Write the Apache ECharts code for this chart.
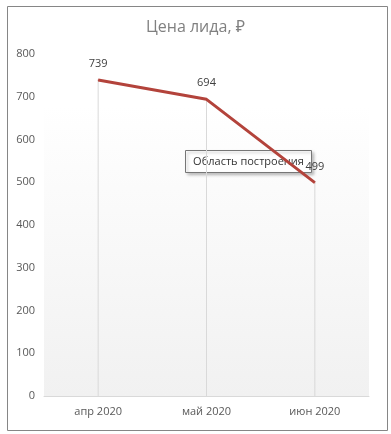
<!DOCTYPE html>
<html><head><meta charset="utf-8">
<script src="https://cdn.jsdelivr.net/npm/echarts@6/dist/echarts.min.js"></script>
<style>html,body{margin:0;padding:0;background:#fff}#c{width:391px;height:434px}</style>
</head><body><div id="c"></div>
<script>
const title = 'Цена лида, ₽';
const categories = ['апр 2020', 'май 2020', 'июн 2020'];
const values = [739, 694, 499];
const yTicks = [0, 100, 200, 300, 400, 500, 600, 700, 800];
const tipText = 'Область построения';

const chart = echarts.init(document.getElementById('c'), null, {renderer: 'canvas'});
const font = '"Open Sans", "Noto Sans", sans-serif';
chart.setOption({
  animation: false,
  backgroundColor: '#fff',
  title: {text: title, left: 'center', top: 14,
    textStyle: {fontFamily: font, fontSize: 16, fontWeight: 'normal', color: '#808080'}},
  grid: {left: 44, right: 22, top: 54, bottom: 38, show: true, borderWidth: 0,
    backgroundColor: new echarts.graphic.LinearGradient(0, 0, 0, 1, [
      {offset: 0, color: '#ffffff'}, {offset: 0.15, color: '#ffffff'}, {offset: 1, color: '#f1f1f1'}])},
  xAxis: {type: 'category', data: categories, boundaryGap: true,
    axisLine: {show: true, lineStyle: {color: '#d9d9d9'}}, axisTick: {show: false},
    axisLabel: {fontFamily: font, fontSize: 11, color: '#595959', margin: 10},
    splitLine: {show: false}},
  yAxis: {type: 'value', min: yTicks[0], max: yTicks[yTicks.length - 1], interval: 100,
    axisLine: {show: false}, axisTick: {show: false}, splitLine: {show: false},
    axisLabel: {fontFamily: font, fontSize: 11, color: '#595959', margin: 9}},
  series: [
    {type: 'bar', data: values, barWidth: 1, itemStyle: {color: '#d9d9d9'}, silent: true, z: 1},
    {type: 'line', data: values, symbol: 'circle', symbolSize: 1, showSymbol: true, z: 3,
      itemStyle: {color: '#b3433b'},
      lineStyle: {color: '#b3433b', width: 3},
      label: {show: true, position: 'top', distance: 10, fontFamily: font, fontSize: 11, color: '#404040'}}
  ],
  graphic: [
    {type: 'rect', left: 5, top: 4, z: 0, silent: true,
      shape: {width: 380, height: 424}, style: {fill: 'none', stroke: '#868686', lineWidth: 1}},
    {type: 'group', left: 185, top: 150, z: 100, children: [
      {type: 'rect', shape: {x: 0, y: 0, width: 126, height: 22},
        style: {fill: '#fff', stroke: '#767676', lineWidth: 1, shadowBlur: 3, shadowOffsetX: 2, shadowOffsetY: 2, shadowColor: 'rgba(0,0,0,0.25)'}},
      {type: 'text', style: {x: 63, y: 11.5, align: 'center', verticalAlign: 'middle', text: tipText, fontFamily: font, fontSize: 11, fill: '#333'}}
    ]}
  ]
});
</script></body></html>
